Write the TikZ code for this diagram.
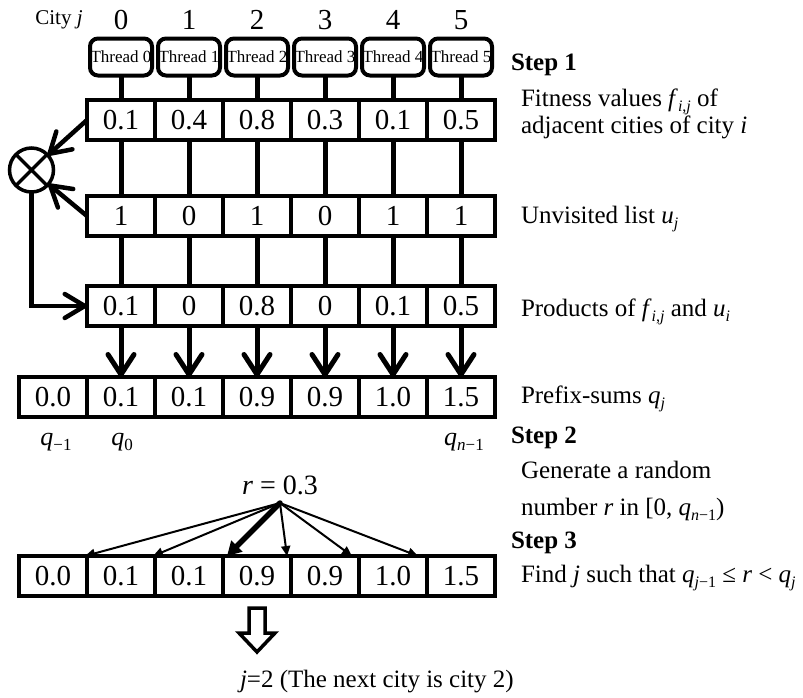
\documentclass[tikz,border=0pt]{standalone}
\usepackage{fontspec}
\setmainfont{Liberation Serif}
\usetikzlibrary{arrows.meta,calc}
% lowered, smaller index text for variables
\newcommand{\idxs}[1]{\raisebox{-0.22em}{\fontsize{16}{16}\selectfont #1}}
\newcommand{\idxq}[1]{\raisebox{-0.22em}{\fontsize{17}{17}\selectfont #1}}

\begin{document}
\begin{tikzpicture}[x=1pt,y=-1pt,
  every node/.style={inner sep=0pt, outer sep=0pt},
  cell/.style={draw, line width=4pt, minimum width=68pt, minimum height=40pt,
    font=\fontsize{29}{30}\selectfont},
  thread/.style={draw, line width=4pt, rounded corners=8pt, minimum width=62pt,
    minimum height=37pt, font=\fontsize{17}{18}\selectfont},
  idx/.style={font=\fontsize{29}{30}\selectfont, anchor=base},
  qlab/.style={font=\fontsize{26}{28}\selectfont, anchor=base},
  note/.style={font=\fontsize{25}{27}\selectfont, anchor=base west},
  stepl/.style={font=\fontsize{25}{27}\selectfont\bfseries, anchor=base west},
  link/.style={line width=5pt},
  down/.style={line width=5pt, -{Straight Barb[length=20pt,width=26pt,round]}},
  feed/.style={line width=4.5pt, -{Straight Barb[length=20pt,width=24pt,round]}},
  pick/.style={line width=2pt, line cap=round, -{Triangle[length=10pt,width=9pt]}},
  hit/.style={line width=5.5pt, line cap=round, -{Triangle[length=14pt,width=15pt]}},
]
\useasboundingbox (0,0) rectangle (803,697);

% column headers and threads
\node[font=\fontsize{21}{22}\selectfont, anchor=base] (city) at (59,24) {City \textit{j}};
\foreach \i in {0,...,5} {
  \node[idx] (n\i) at (121+68*\i,29) {\i};
  \node[thread] (t\i) at (121+68*\i,57) {Thread \i};
}

% data rows
\foreach \v [count=\i from 0] in {0.1,0.4,0.8,0.3,0.1,0.5}
  \node[cell] (a\i) at (121+68*\i,120) {\v};
\foreach \v [count=\i from 0] in {1,0,1,0,1,1}
  \node[cell] (b\i) at (121+68*\i,216) {\v};
\foreach \v [count=\i from 0] in {0.1,0,0.8,0,0.1,0.5}
  \node[cell] (c\i) at (121+68*\i,306) {\v};
\foreach \v [count=\i from 0] in {0.0,0.1,0.1,0.9,0.9,1.0,1.5}
  \node[cell] (p\i) at (53+68*\i,397) {\v};
\foreach \v [count=\i from 0] in {0.0,0.1,0.1,0.9,0.9,1.0,1.5}
  \node[cell] (d\i) at (53+68*\i,576) {\v};

% per-thread data flow
\foreach \i in {0,...,5} {
  \pgfmathtruncatemacro\k{\i+1}
  \draw[link] (t\i) -- (a\i);
  \draw[link] (a\i) -- (b\i);
  \draw[link] (b\i) -- (c\i);
  \draw[down] (c\i) -- (p\k);
}

% multiplier
\node[draw, circle, line width=3.5pt, minimum size=44pt] (mul) at (31.5,170) {};
\draw[line width=3.5pt] (mul.north west) -- (mul.south east)
  (mul.north east) -- (mul.south west);
\draw[feed] (a0.west) -- (mul);
\draw[feed] (b0.west) -- (mul);
\draw[feed] (mul.south) |- (c0.west);

% prefix-sum labels
\node[qlab] (qm) at (56,445) {\textit{q}\idxq{−1}};
\node[qlab] (q0) at (122,445) {\textit{q}\idxq{0}};
\node[qlab] (qn) at (464,445) {\textit{q}\idxq{\textit{n}−1}};

% random number and binary search
\node[font=\fontsize{28}{30}\selectfont, anchor=base] (rv) at (280,494) {\textit{r} = 0.3};
\coordinate (fan) at (280,503);
\draw[pick] (fan) -- ([xshift=-2pt]d0.north east);
\draw[pick] (fan) -- ([xshift=-2pt]d1.north east);
\draw[hit]  (fan) -- ([xshift=4pt]d2.north east);
\draw[pick] (fan) -- ([xshift=-4pt]d3.north east);
\draw[pick] (fan) -- ([xshift=-7pt]d4.north east);
\draw[pick] (fan) -- ([xshift=-9pt]d5.north east);

% hollow result arrow
\draw[line width=3.5pt, line join=miter]
  (249,608) -- (265,608) -- (265,633) -- (275,633) -- (257,652)
  -- (239,633) -- (249,633) -- cycle;
\node[note] (res) at (240,687) {\textit{j}=2 (The next city is city 2)};

% step descriptions
\node[stepl] (s1) at (511,70) {Step 1};
\node[note] (l1) at (521,106) {Fitness values \textit{f}\idxs{\textit{i},\textit{j}} of};
\node[note] (l2) at (521,133) {adjacent cities of city \textit{i}};
\node[note] (l3) at (521,223) {Unvisited list \textit{u}\idxs{\textit{j}}};
\node[note] (l4) at (521,316) {Products of \textit{f}\idxs{\textit{i},\textit{j}} and \textit{u}\idxs{\textit{i}}};
\node[note] (l5) at (521,403) {Prefix-sums \textit{q}\idxs{\textit{j}}};
\node[stepl] (s2) at (511,443) {Step 2};
\node[note] (l6) at (521,478) {Generate a random};
\node[note] (l7) at (521,515) {number \textit{r} in [0, \textit{q}\idxs{\textit{n}−1})};
\node[stepl] (s3) at (511,548) {Step 3};
\node[note] (l8) at (521,582) {Find \textit{j} such that \textit{q}\idxs{\textit{j}−1} ≤ \textit{r} < \textit{q}\idxs{\textit{j}}};
\end{tikzpicture}
\end{document}
